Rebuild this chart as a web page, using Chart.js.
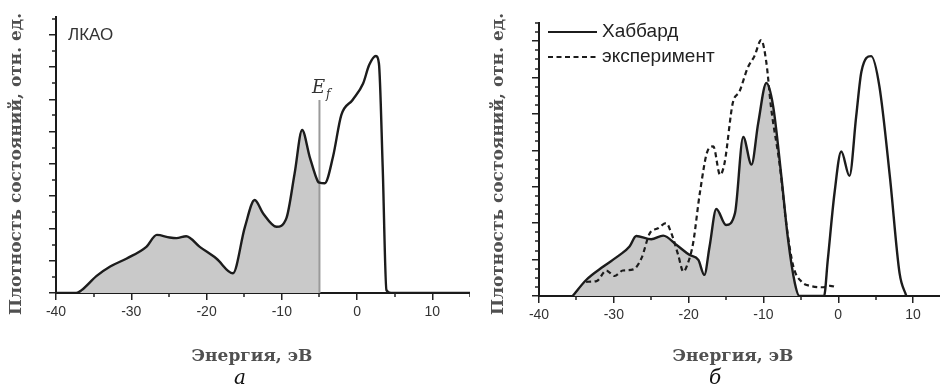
<!DOCTYPE html>
<html>
<head>
<meta charset="utf-8">
<script src="https://cdn.jsdelivr.net/npm/chart.js@4/dist/chart.umd.min.js"></script>
<style>
  html, body { margin: 0; padding: 0; background: #fff; }
  .panel { position: absolute; top: 0; width: 470px; height: 389px; }
</style>
</head>
<body>
<div class="panel" style="left:0"><canvas id="chartA" width="470" height="389"></canvas></div>
<div class="panel" style="left:470px"><canvas id="chartB" width="470" height="389"></canvas></div>
<script>
// Panel a: LCAO density of states
const lcaoEnergy = [-40, -37.3, -36.6, -34.6, -32.8, -30.6, -28.0, -26.6, -24.9, -24.0, -22.7, -20.9, -18.7, -16.5,
  -14.9, -13.6, -12.5, -10.7, -9.4, -8.3, -7.3, -6.3, -5.2, -5.0, -4.3, -3.2, -2.1, -0.6, 0.8, 1.6, 2.5, 2.9, 3.4, 3.9, 4.5, 15];
const lcaoDos = [0, 0, 0.09, 0.53, 0.82, 1.07, 1.43, 1.80, 1.72, 1.70, 1.76, 1.43, 1.07, 0.61,
  2.05, 2.88, 2.47, 2.05, 2.31, 3.70, 5.05, 4.22, 3.45, 3.42, 3.40, 4.22, 5.51, 5.98, 6.49, 7.06, 7.34, 7.11, 3.91, 0.09, 0, 0];
const fermiEnergy = -5.0;
const fermiTop = 5.98;

// Panel b: Hubbard model vs experiment
const hubbardEnergy = [-35.5, -33.7, -31.4, -29.2, -27.9, -27.0, -25.0, -23.4, -21.6, -19.9, -18.7, -17.9, -17.2,
  -16.3, -15.0, -13.8, -12.7, -11.6, -10.7, -9.6, -8.7, -7.6, -6.7, -5.8, -5.2,
  -1.9, -1.4, -0.5, 0.4, 1.5, 2.4, 3.1, 4.4, 5.5, 6.9, 8.2, 9.1];
const hubbardDos = [0, 0.44, 0.81, 1.13, 1.36, 1.65, 1.56, 1.66, 1.40, 1.13, 0.99, 0.58, 1.36,
  2.39, 1.95, 2.28, 4.37, 3.61, 4.75, 5.85, 5.21, 3.28, 1.54, 0.35, 0,
  0, 0.99, 2.83, 3.97, 3.30, 4.94, 6.17, 6.59, 5.76, 3.28, 0.62, 0];
const hubbardFillEnd = -5.2;

const expEnergy = [-33.7, -32.3, -31.0, -29.9, -28.8, -27.4, -26.3, -25.2, -24.1, -23.0, -22.3, -21.4, -20.7, -20.1,
  -19.4, -18.5, -17.4, -16.7, -15.8, -15.2, -14.1, -13.2, -12.1, -11.2, -10.3, -9.6, -9.0, -7.8, -6.9, -6.0,
  -4.9, -3.8, -2.0, -1.1, -0.2];
const expDos = [0.39, 0.41, 0.70, 0.55, 0.70, 0.73, 1.04, 1.72, 1.86, 2.00, 1.72, 1.13, 0.67, 0.90,
  1.45, 2.83, 4.02, 4.11, 3.33, 3.65, 5.30, 5.62, 6.27, 6.59, 7.03, 6.40, 5.21, 3.56, 1.91, 0.81,
  0.39, 0.28, 0.24, 0.28, 0.24];

const xTickLabels = [-40, -30, -20, -10, 0, 10];
const yTitle = 'Плотность состояний, отн. ед.';
const xTitle = 'Энергия, эВ';

const lineColor = '#1c1c1c';
const fillColor = '#c9c9c9';

function points(xs, ys) {
  return xs.map((x, i) => ({ x: x, y: ys[i] }));
}

// minor ticks + texts drawn on top of the chart
const decorPlugin = {
  id: 'decor',
  afterDraw(chart, args, opts) {
    const ctx = chart.ctx;
    const xs = chart.scales.x, ys = chart.scales.y;
    ctx.save();
    ctx.strokeStyle = '#222';
    ctx.lineWidth = 1.5;
    for (let v = xs.min; v <= xs.max + 1e-9; v += opts.xMinor) {
      if (Math.abs(v % 10) < 1e-6) continue;
      const px = Math.round(xs.getPixelForValue(v));
      ctx.beginPath(); ctx.moveTo(px, ys.bottom); ctx.lineTo(px, ys.bottom + 4); ctx.stroke();
    }
    for (let v = 0; v <= ys.max + 1e-9; v += opts.yMinor) {
      if (Math.abs(v - Math.round(v)) < 1e-6) continue;
      const py = Math.round(ys.getPixelForValue(v));
      ctx.beginPath(); ctx.moveTo(xs.left, py); ctx.lineTo(xs.left - 4, py); ctx.stroke();
    }
    // axis titles
    ctx.fillStyle = '#505050';
    ctx.font = 'bold 17px "DejaVu Serif"';
    ctx.textAlign = 'center';
    ctx.textBaseline = 'middle';
    ctx.save();
    ctx.translate(opts.yTitleX, 164);
    ctx.rotate(-Math.PI / 2);
    ctx.fillText(yTitle, 0, 0);
    ctx.restore();
    ctx.fillText(xTitle, opts.xTitleX, 357);
    ctx.fillStyle = '#111';
    ctx.font = 'italic 20px "DejaVu Serif"';
    ctx.fillText(opts.letter, opts.letterX, 379);
    if (opts.extra) opts.extra(ctx, chart);
    ctx.restore();
  }
};

function axisOptions(xMax, yMax, yWidth, xHeight) {
  return {
    x: {
      type: 'linear', min: -40, max: xMax,
      afterFit: s => { s.height = xHeight; },
      afterBuildTicks: s => { s.ticks = xTickLabels.map(v => ({ value: v })); },
      ticks: { color: '#333', font: { family: 'Liberation Sans', size: 14 }, padding: 4 },
      grid: { drawOnChartArea: false, drawTicks: true, tickLength: 7, color: '#222', lineWidth: 1.5 },
      border: { color: '#1a1a1a', width: 2 }
    },
    y: {
      type: 'linear', min: 0, max: yMax,
      afterFit: s => { s.width = yWidth; },
      ticks: { stepSize: 1, display: false, includeBounds: false },
      grid: { drawOnChartArea: false, drawTicks: true, tickLength: 7, color: '#222', lineWidth: 1.5 },
      border: { color: '#1a1a1a', width: 2 }
    }
  };
}

new Chart('chartA', {
  type: 'line',
  data: {
    datasets: [
      {
        data: points(lcaoEnergy, lcaoDos),
        borderColor: lineColor, borderWidth: 2.4, pointRadius: 0,
        cubicInterpolationMode: 'monotone', fill: false, order: 1
      },
      {
        data: points(lcaoEnergy, lcaoDos).filter(p => p.x <= fermiEnergy),
        borderWidth: 0, pointRadius: 0, backgroundColor: fillColor,
        cubicInterpolationMode: 'monotone', fill: 'origin', order: 3
      },
      {
        data: [{ x: fermiEnergy, y: 0 }, { x: fermiEnergy, y: fermiTop }],
        borderColor: '#9a9a9a', borderWidth: 2, pointRadius: 0, fill: false, order: 2
      }
    ]
  },
  options: {
    responsive: false, animation: false,
    layout: { padding: { top: 17, right: 0, left: 0, bottom: 0 } },
    scales: axisOptions(15, 8.55, 56, 96),
    plugins: {
      legend: { display: false }, tooltip: { enabled: false },
      decor: {
        xMinor: 5, yMinor: 0.5, yTitleX: 17, xTitleX: 252, letter: 'а', letterX: 240,
        extra(ctx, chart) {
          ctx.fillStyle = '#333';
          ctx.font = '17px "Liberation Sans"';
          ctx.textAlign = 'left';
          ctx.fillText('ЛКАО', 68, 35);
          ctx.font = 'italic 18px "DejaVu Serif"';
          ctx.fillText('E', 312, 88);
          ctx.font = 'italic 12px "DejaVu Serif"';
          ctx.fillText('f', 326, 95);
        }
      }
    }
  },
  plugins: [decorPlugin]
});

new Chart('chartB', {
  type: 'line',
  data: {
    datasets: [
      {
        label: 'Хаббард',
        data: points(hubbardEnergy, hubbardDos),
        borderColor: lineColor, borderWidth: 2.4, pointRadius: 0,
        cubicInterpolationMode: 'monotone', fill: false, order: 1
      },
      {
        label: 'эксперимент',
        data: points(expEnergy, expDos),
        borderColor: lineColor, borderWidth: 2.2, borderDash: [5, 3.5], pointRadius: 0,
        cubicInterpolationMode: 'monotone', fill: false, order: 2
      },
      {
        data: points(hubbardEnergy, hubbardDos).filter(p => p.x <= hubbardFillEnd),
        borderWidth: 0, pointRadius: 0, backgroundColor: fillColor,
        cubicInterpolationMode: 'monotone', fill: 'origin', order: 3
      }
    ]
  },
  options: {
    responsive: false, animation: false,
    layout: { padding: { top: 23, right: 0, left: 0, bottom: 0 } },
    scales: axisOptions(13.6, 7.5, 69, 93),
    plugins: {
      legend: { display: false }, tooltip: { enabled: false },
      decor: {
        xMinor: 5, yMinor: 0.25, yTitleX: 29, xTitleX: 263, letter: 'б', letterX: 245,
        extra(ctx, chart) {
          const ds = chart.data.datasets;
          ctx.strokeStyle = lineColor;
          ctx.lineWidth = 2;
          ctx.beginPath(); ctx.moveTo(78, 32); ctx.lineTo(127, 32); ctx.stroke();
          ctx.setLineDash([5, 3.5]);
          ctx.beginPath(); ctx.moveTo(78, 57); ctx.lineTo(127, 57); ctx.stroke();
          ctx.setLineDash([]);
          ctx.fillStyle = '#222';
          ctx.font = '19px "Liberation Sans"';
          ctx.textAlign = 'left';
          ctx.fillText(ds[0].label, 132, 32);
          ctx.fillText(ds[1].label, 132, 57);
        }
      }
    }
  },
  plugins: [decorPlugin]
});
</script>
</body>
</html>
